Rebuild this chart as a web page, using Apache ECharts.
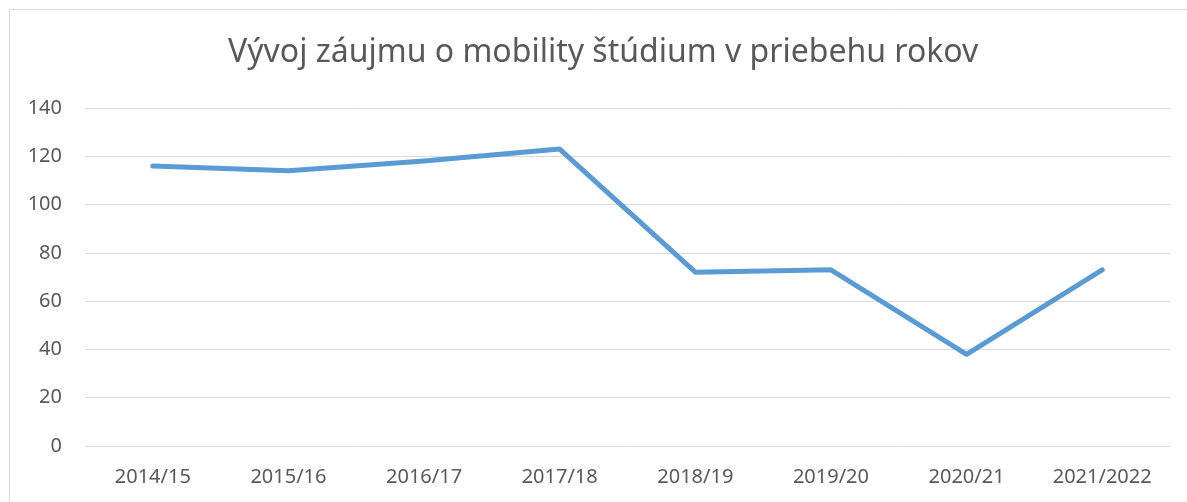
<!DOCTYPE html>
<html>
<head>
<meta charset="utf-8">
<script src="https://cdn.jsdelivr.net/npm/echarts@6/dist/echarts.min.js"></script>
<style>
  html, body { margin: 0; padding: 0; background: #fff; }
  #chart { width: 1187px; height: 502px; }
</style>
</head>
<body>
<div id="chart"></div>
<script>
// dáta z grafu
const years = ['2014/15', '2015/16', '2016/17', '2017/18', '2018/19', '2019/20', '2020/21', '2021/2022'];
const interest = [116, 114, 118, 123, 72, 73, 38, 73];
const yTicks = [0, 20, 40, 60, 80, 100, 120, 140];

const textColor = '#595959';
const font = '"Noto Sans", sans-serif';

const chart = echarts.init(document.getElementById('chart'));

chart.setOption({
  animation: false,
  title: {
    text: 'Vývoj záujmu o mobility štúdium v priebehu rokov',
    left: 228,
    top: 37,
    padding: 0,
    textStyle: { color: textColor, fontSize: 32, fontWeight: 'normal', fontFamily: font }
  },
  graphic: [{
    type: 'rect',
    shape: { x: 9.5, y: 9.5, width: 1200, height: 520 },
    style: { fill: 'none', stroke: '#d9d9d9', lineWidth: 1 },
    silent: true
  }],
  grid: { left: 85, right: 17, top: 108, bottom: 56 },
  xAxis: {
    type: 'category',
    data: years,
    axisLine: { show: false },
    axisTick: { show: false },
    axisLabel: { color: textColor, fontSize: 20, fontFamily: font, margin: 21 }
  },
  yAxis: {
    type: 'value',
    min: yTicks[0],
    max: yTicks[yTicks.length - 1],
    interval: 20,
    axisLine: { show: false },
    axisTick: { show: false },
    splitLine: { lineStyle: { color: '#d9d9d9', width: 1 } },
    axisLabel: { color: textColor, fontSize: 20, fontFamily: font, margin: 23 }
  },
  series: [{
    type: 'line',
    data: interest,
    symbol: 'none',
    lineStyle: { color: '#5b9bd5', width: 5, cap: 'round', join: 'round' }
  }]
});
</script>
</body>
</html>
